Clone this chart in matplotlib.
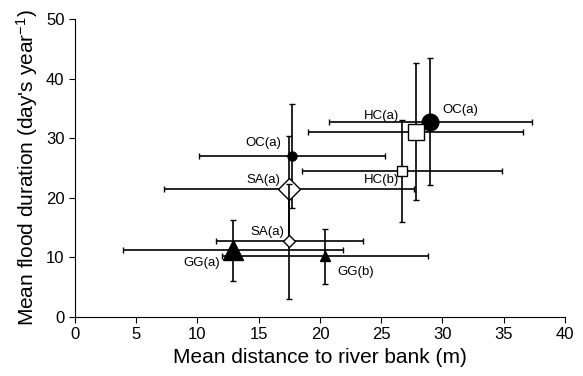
import matplotlib
matplotlib.use("Agg")
import matplotlib.pyplot as plt

plt.rcParams['font.family'] = ['Liberation Sans', 'DejaVu Sans']
plt.rcParams['mathtext.default'] = 'regular'

# data
labels = ['OC(a)', 'HC(a)', 'OC(a)', 'HC(b)', 'SA(a)', 'SA(a)', 'GG(a)', 'GG(b)']
dist = [29.0, 27.8, 17.7, 26.7, 17.5, 17.5, 12.9, 20.4]
dist_err = [8.3, 8.8, 7.6, 8.15, 10.2, 6.0, 9.0, 8.4]
flood = [32.8, 31.1, 27.0, 24.5, 21.5, 12.7, 11.2, 10.2]
flood_err = [10.7, 11.55, 8.7, 8.5, 8.9, 9.6, 5.1, 4.6]

# styles per point
markers = ['o', 's', 'o', 's', 'D', 'D', '^', '^']
msizes = [12, 12, 6.5, 7, 11, 6.5, 14, 7.5]
faces = ['black', 'white', 'black', 'white', 'white', 'white', 'black', 'black']
# label positions (data coords) and alignment
label_pos = [(30.0, 34.8), (25.0, 33.8), (16.8, 29.2), (25.0, 23.0),
             (16.8, 23.0), (17.1, 14.3), (11.8, 9.0), (21.4, 7.6)]
ha = ['left', 'center', 'right', 'center', 'right', 'right', 'right', 'left']

fig = plt.figure(figsize=(5.83, 3.76), dpi=100)
ax = fig.add_axes([0.1286, 0.1569, 0.8405, 0.7926])

for i in range(len(labels)):
    ax.errorbar(dist[i], flood[i], xerr=dist_err[i], yerr=flood_err[i],
                fmt=markers[i], ms=msizes[i], mfc=faces[i], mec='black',
                mew=1.0, ecolor='black', elinewidth=1.2, capsize=2.5,
                capthick=1.2, zorder=3 + i * 0.1)

for (tx, ty), lab, h in zip(label_pos, labels, ha):
    ax.text(tx, ty, lab, fontsize=9.5, ha=h, va='center', zorder=10)

ax.set_xlim(0, 40)
ax.set_ylim(0, 50)
ax.set_xticks(range(0, 41, 5))
ax.set_yticks(range(0, 51, 10))
ax.spines['top'].set_visible(False)
ax.spines['right'].set_visible(False)
ax.tick_params(labelsize=12, length=4, direction='out')
ax.set_xlabel('Mean distance to river bank (m)', fontsize=15)
ax.set_ylabel("Mean flood duration (day's year$^{-1}$)", fontsize=15)

fig.savefig('out.png', dpi=100)
